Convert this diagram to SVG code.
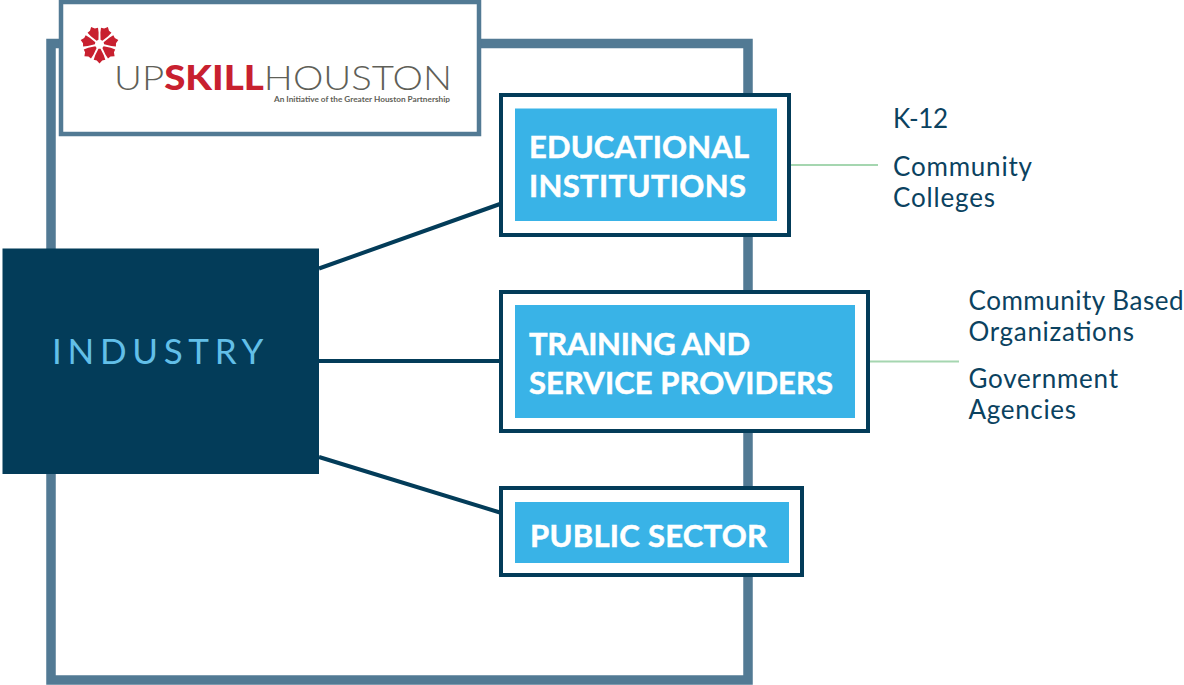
<svg xmlns="http://www.w3.org/2000/svg" width="1184" height="685" viewBox="0 0 1184 685">
<style>
.box{fill:#fff;stroke:#033c59;stroke-width:4}
.in{fill:#39b3e7}
.t{font-family:"Lato","Liberation Sans",sans-serif;font-weight:700;font-size:31px;fill:#fff;stroke:#fff;stroke-width:.5px}
.l{font-family:"Lato","Liberation Sans",sans-serif;font-size:26px;fill:#0b4260}
.c{stroke:#033c59;stroke-width:4;fill:none}
.g{stroke:#a5d6b0;stroke-width:2;fill:none}
</style>
<rect width="1184" height="685" fill="#fff"/>
<rect id="frame" x="51" y="43.500" width="697" height="636.500" fill="none" stroke="#527a94" stroke-width="9.500"/>
<g id="connectors">
<path class="c" d="M319 268.500L500 204M319 361H500M319 457L500 512.500"/>
<path class="g" d="M790 165H878M869 361.500H959"/>
</g>
<g id="logo">
<rect x="61" y="2" width="418" height="132" fill="#fff" stroke="#527a94" stroke-width="4.500"/>
<g id="flower" fill="#c8202f" transform="translate(99.500 44.300)">
<path id="p" d="M-1-4.500L-4.300-11L-5.800-15.500L-2.700-16.300L0-19.300L2.700-16.300L5.800-15.500L4.300-11L1-4.500Z" transform="rotate(180)"/>
<use href="#p" transform="rotate(51.430)"/><use href="#p" transform="rotate(102.860)"/><use href="#p" transform="rotate(154.290)"/><use href="#p" transform="rotate(205.710)"/><use href="#p" transform="rotate(257.140)"/><use href="#p" transform="rotate(308.570)"/>
</g>
<text x="114" y="90" font-family="'Lato','Liberation Sans',sans-serif" font-size="34" fill="#5f5f58" textLength="338" lengthAdjust="spacingAndGlyphs"><tspan font-weight="300">UP</tspan><tspan font-weight="900" fill="#c8202f">SKILL</tspan><tspan font-weight="300">HOUSTON</tspan></text>
<text x="274" y="101.500" font-family="'Lato','Liberation Sans',sans-serif" font-size="7.500" font-weight="700" fill="#5f5f58" textLength="176" lengthAdjust="spacingAndGlyphs">An Initiative of the Greater Houston Partnership</text>
</g>
<g id="industry">
<rect x="2.500" y="248.500" width="316.500" height="225.500" fill="#033c59"/>
<text x="52" y="364" font-family="Lato,'Liberation Sans',sans-serif" font-size="35" letter-spacing="5.700" fill="#62bfe8">INDUSTRY</text>
</g>
<g id="educational">
<rect class="box" x="501" y="95" width="288" height="140"/>
<rect class="in" x="515" y="108.500" width="262" height="112.500"/>
<text class="t" x="529" y="157.500" textLength="220">EDUCATIONAL</text>
<text class="t" x="529" y="196.500" textLength="217">INSTITUTIONS</text>
</g>
<g id="training">
<rect class="box" x="501" y="292" width="367" height="139"/>
<rect class="in" x="515" y="305" width="340" height="113"/>
<text class="t" x="529" y="354.500" textLength="221">TRAINING AND</text>
<text class="t" x="529" y="393.500" textLength="304">SERVICE PROVIDERS</text>
</g>
<g id="public">
<rect class="box" x="501" y="488" width="301" height="87"/>
<rect class="in" x="515" y="502" width="274" height="61"/>
<text class="t" x="530" y="547" textLength="237">PUBLIC SECTOR</text>
</g>
<g id="edu-list">
<text class="l" x="893" y="127.500" textLength="55">K-12</text>
<text class="l" x="893" y="175.500" textLength="139">Community</text>
<text class="l" x="893" y="206.500" textLength="102">Colleges</text>
</g>
<g id="training-list">
<text class="l" x="968.500" y="309.500" textLength="215">Community Based</text>
<text class="l" x="968.500" y="340.500" textLength="165.500">Organizations</text>
<text class="l" x="968.500" y="387.500" textLength="149.500">Government</text>
<text class="l" x="968.500" y="418.500" textLength="107.500">Agencies</text>
</g>
</svg>
